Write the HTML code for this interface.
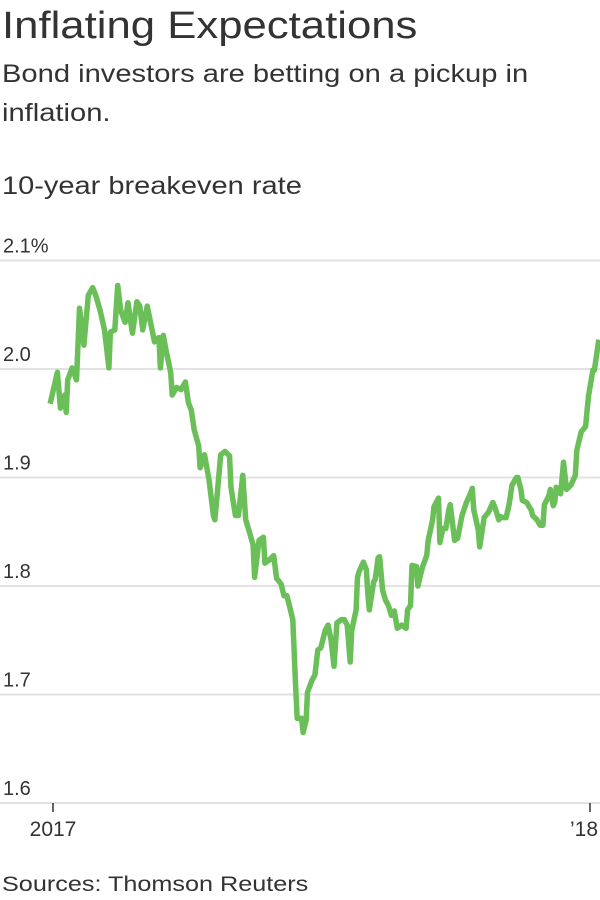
<!DOCTYPE html>
<html><head><meta charset="utf-8"><style>
body{margin:0;background:#fff;width:600px;height:900px;overflow:hidden;font-family:"Liberation Sans",sans-serif;color:#333}
.t{position:absolute;left:2px;white-space:nowrap;transform-origin:0 0}
</style></head><body>
<div class="t" style="top:5px;font-size:38px;transform:scaleX(1.15)">Inflating Expectations</div>
<div class="t" style="top:55px;font-size:25px;line-height:39px;transform:scaleX(1.165)">Bond investors are betting on a pickup in<br>inflation.</div>
<div class="t" style="top:172px;font-size:25px;transform:scaleX(1.16)">10-year breakeven rate</div>
<div class="t" style="top:873px;font-size:21px;transform:scaleX(1.2)">Sources: Thomson Reuters</div>
<svg id="chart" width="600" height="900" style="position:absolute;left:0;top:0"></svg>
<script>
const days=[-2,3,5,8,9,10,13,16,18,21,24,27,29,32,35,38,39,42,44,46,49,51,54,57,59,61,64,66,69,72,73,75,77,80,81,84,87,90,92,94,96,99,100,103,106,109,110,111,114,117,120,121,124,126,129,131,133,136,137,140,143,144,147,150,152,155,157,159,161,163,165,166,169,170,172,173,176,178,180,182,185,187,189,191,193,196,198,200,202,203,206,207,208,211,213,214,215,218,219,221,222,224,226,228,230,232,234,237,240,241,243,244,247,248,251,254,255,258,259,262,263,265,267,269,270,273,275,278,281,284,285,286,289,290,293,296,299,301,303,304,306,308,310,312,315,316,318,319,322,325,326,329,331,333,334,337,338,340,341,342,345,347,349,352,355,356,359,362,363,364,367,368,371];
const rates=[1.968,1.997,1.964,1.976,1.960,1.990,2.001,1.990,2.056,2.022,2.068,2.075,2.068,2.054,2.036,2.001,2.034,2.036,2.077,2.054,2.043,2.061,2.033,2.062,2.058,2.036,2.058,2.045,2.025,2.029,2.001,2.031,2.016,1.997,1.976,1.983,1.981,1.988,1.969,1.962,1.944,1.929,1.909,1.921,1.898,1.865,1.861,1.875,1.921,1.924,1.920,1.891,1.865,1.865,1.902,1.861,1.852,1.838,1.808,1.842,1.845,1.821,1.824,1.828,1.807,1.802,1.791,1.791,1.780,1.769,1.704,1.678,1.678,1.665,1.676,1.702,1.713,1.718,1.741,1.743,1.759,1.764,1.750,1.726,1.766,1.769,1.769,1.764,1.730,1.759,1.778,1.808,1.813,1.822,1.815,1.793,1.778,1.804,1.806,1.826,1.827,1.796,1.787,1.782,1.773,1.777,1.761,1.764,1.761,1.778,1.782,1.819,1.818,1.800,1.817,1.828,1.842,1.861,1.873,1.881,1.840,1.853,1.853,1.870,1.875,1.842,1.844,1.865,1.877,1.886,1.890,1.870,1.852,1.836,1.863,1.868,1.877,1.870,1.861,1.864,1.863,1.863,1.875,1.893,1.900,1.900,1.889,1.879,1.877,1.870,1.865,1.861,1.856,1.856,1.875,1.883,1.889,1.874,1.877,1.891,1.885,1.914,1.889,1.893,1.902,1.925,1.942,1.947,1.962,1.975,1.999,1.999,2.027];
const yTicks=[2.1,2.0,1.9,1.8,1.7,1.6];
const yTickLabels=["2.1%","2.0","1.9","1.8","1.7","1.6"];
const xTicks=[0,365];
const xTickLabels=["2017","’18"];
const svg=document.getElementById('chart');
const NS='http://www.w3.org/2000/svg';
const xs=d=>53+(d/365)*537;
const ys=v=>369+(2.0-v)*1085;
function mk(tag,attrs){const e=document.createElementNS(NS,tag);for(const k in attrs)e.setAttribute(k,attrs[k]);svg.appendChild(e);return e;}
yTicks.forEach((v,i)=>{
  const g=mk('line',{x1:0,x2:600,y1:ys(v),y2:ys(v),stroke:'#e2e2e2','stroke-width':2});
  
  
  const t=mk('text',{x:3,y:ys(v)-8,'font-size':20,fill:'#333','font-family':'Liberation Sans, sans-serif'});
  t.textContent=yTickLabels[i];
  
  
});
xTicks.forEach((d,i)=>{
  const l=mk('line',{x1:xs(d),x2:xs(d),y1:ys(1.6),y2:ys(1.6)+9,stroke:'#333','stroke-width':1.5});
  
  
  const t=mk('text',{x:i==0?xs(d):xs(d)-6,y:836,'font-size':21,fill:'#333','text-anchor':'middle','font-family':'Liberation Sans, sans-serif'});
  t.textContent=xTickLabels[i];
  
  
});
const p=mk('polyline',{points:days.map((d,i)=>xs(d).toFixed(1)+','+ys(rates[i]).toFixed(1)).join(' '),fill:'none',stroke:'#6abf59','stroke-width':5.5,'stroke-linejoin':'round'});


</script>
</body></html>
